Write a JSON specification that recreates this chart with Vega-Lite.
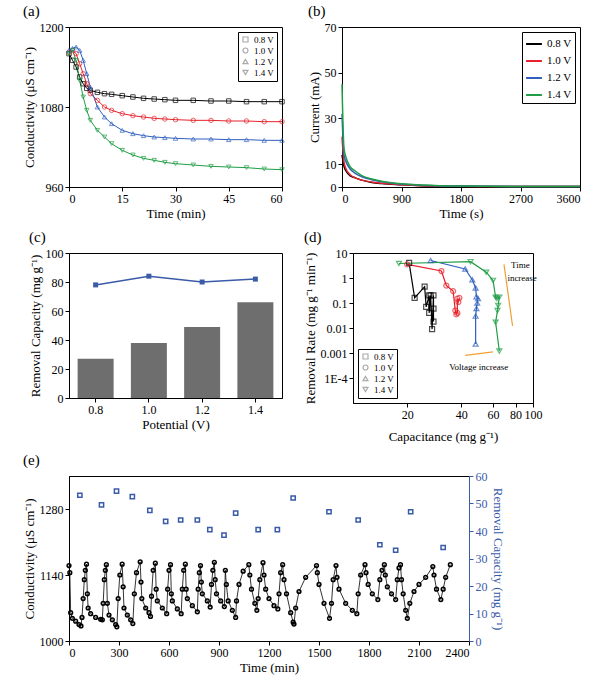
{
  "$schema": "https://vega.github.io/schema/vega-lite/v6.json",
  "background": "white",
  "padding": {"left": 22, "top": 3, "right": 3, "bottom": 2},
  "datasets": {
    "cond": [
      {"t":0,"v":"0.8 V","c":1160},{"t":1,"v":"0.8 V","c":1150},{"t":2,"v":"0.8 V","c":1140},{"t":3,"v":"0.8 V","c":1125},{"t":4,"v":"0.8 V","c":1115},{"t":5,"v":"0.8 V","c":1108},{"t":6,"v":"0.8 V","c":1105},{"t":8,"v":"0.8 V","c":1102},{"t":10,"v":"0.8 V","c":1100},{"t":12,"v":"0.8 V","c":1099},{"t":15,"v":"0.8 V","c":1097},{"t":18,"v":"0.8 V","c":1095},{"t":21,"v":"0.8 V","c":1093},{"t":24,"v":"0.8 V","c":1092},{"t":27,"v":"0.8 V","c":1091},{"t":30,"v":"0.8 V","c":1090},{"t":35,"v":"0.8 V","c":1090},{"t":40,"v":"0.8 V","c":1089},{"t":45,"v":"0.8 V","c":1089},{"t":50,"v":"0.8 V","c":1088},{"t":55,"v":"0.8 V","c":1088},{"t":60,"v":"0.8 V","c":1088},
      {"t":0,"v":"1.0 V","c":1162},{"t":1,"v":"1.0 V","c":1165},{"t":2,"v":"1.0 V","c":1160},{"t":3,"v":"1.0 V","c":1145},{"t":4,"v":"1.0 V","c":1130},{"t":5,"v":"1.0 V","c":1115},{"t":6,"v":"1.0 V","c":1100},{"t":8,"v":"1.0 V","c":1090},{"t":10,"v":"1.0 V","c":1080},{"t":12,"v":"1.0 V","c":1075},{"t":15,"v":"1.0 V","c":1070},{"t":18,"v":"1.0 V","c":1067},{"t":21,"v":"1.0 V","c":1065},{"t":24,"v":"1.0 V","c":1063},{"t":27,"v":"1.0 V","c":1062},{"t":30,"v":"1.0 V","c":1061},{"t":35,"v":"1.0 V","c":1060},{"t":40,"v":"1.0 V","c":1060},{"t":45,"v":"1.0 V","c":1059},{"t":50,"v":"1.0 V","c":1059},{"t":55,"v":"1.0 V","c":1058},{"t":60,"v":"1.0 V","c":1058},
      {"t":0,"v":"1.2 V","c":1165},{"t":1,"v":"1.2 V","c":1168},{"t":2,"v":"1.2 V","c":1170},{"t":3,"v":"1.2 V","c":1165},{"t":4,"v":"1.2 V","c":1150},{"t":5,"v":"1.2 V","c":1130},{"t":6,"v":"1.2 V","c":1110},{"t":8,"v":"1.2 V","c":1080},{"t":10,"v":"1.2 V","c":1065},{"t":12,"v":"1.2 V","c":1055},{"t":15,"v":"1.2 V","c":1045},{"t":18,"v":"1.2 V","c":1040},{"t":21,"v":"1.2 V","c":1037},{"t":24,"v":"1.2 V","c":1035},{"t":27,"v":"1.2 V","c":1034},{"t":30,"v":"1.2 V","c":1033},{"t":35,"v":"1.2 V","c":1032},{"t":40,"v":"1.2 V","c":1032},{"t":45,"v":"1.2 V","c":1031},{"t":50,"v":"1.2 V","c":1031},{"t":55,"v":"1.2 V","c":1030},{"t":60,"v":"1.2 V","c":1030},
      {"t":0,"v":"1.4 V","c":1160},{"t":1,"v":"1.4 V","c":1165},{"t":2,"v":"1.4 V","c":1150},{"t":3,"v":"1.4 V","c":1120},{"t":4,"v":"1.4 V","c":1095},{"t":5,"v":"1.4 V","c":1075},{"t":6,"v":"1.4 V","c":1060},{"t":8,"v":"1.4 V","c":1045},{"t":10,"v":"1.4 V","c":1035},{"t":12,"v":"1.4 V","c":1025},{"t":15,"v":"1.4 V","c":1015},{"t":18,"v":"1.4 V","c":1008},{"t":21,"v":"1.4 V","c":1003},{"t":24,"v":"1.4 V","c":1000},{"t":27,"v":"1.4 V","c":997},{"t":30,"v":"1.4 V","c":995},{"t":35,"v":"1.4 V","c":993},{"t":40,"v":"1.4 V","c":991},{"t":45,"v":"1.4 V","c":990},{"t":50,"v":"1.4 V","c":989},{"t":55,"v":"1.4 V","c":987},{"t":60,"v":"1.4 V","c":986}
    ],
    "current": [
      {"t":0,"v":"0.8 V","i":14},{"t":30,"v":"0.8 V","i":9},{"t":60,"v":"0.8 V","i":7},{"t":120,"v":"0.8 V","i":5},{"t":200,"v":"0.8 V","i":4},{"t":300,"v":"0.8 V","i":3},{"t":450,"v":"0.8 V","i":2},{"t":600,"v":"0.8 V","i":1.5},{"t":900,"v":"0.8 V","i":1},{"t":1200,"v":"0.8 V","i":0.6},{"t":1800,"v":"0.8 V","i":0.3},{"t":2700,"v":"0.8 V","i":0.2},{"t":3600,"v":"0.8 V","i":0.2},
      {"t":0,"v":"1.0 V","i":22},{"t":30,"v":"1.0 V","i":11},{"t":60,"v":"1.0 V","i":8},{"t":120,"v":"1.0 V","i":5.5},{"t":200,"v":"1.0 V","i":4},{"t":300,"v":"1.0 V","i":3},{"t":450,"v":"1.0 V","i":2.2},{"t":600,"v":"1.0 V","i":1.6},{"t":900,"v":"1.0 V","i":1},{"t":1200,"v":"1.0 V","i":0.6},{"t":1800,"v":"1.0 V","i":0.3},{"t":2700,"v":"1.0 V","i":0.2},{"t":3600,"v":"1.0 V","i":0.2},
      {"t":0,"v":"1.2 V","i":32},{"t":30,"v":"1.2 V","i":14},{"t":60,"v":"1.2 V","i":11},{"t":120,"v":"1.2 V","i":8},{"t":200,"v":"1.2 V","i":6},{"t":300,"v":"1.2 V","i":4.5},{"t":450,"v":"1.2 V","i":3.2},{"t":600,"v":"1.2 V","i":2.3},{"t":900,"v":"1.2 V","i":1.3},{"t":1200,"v":"1.2 V","i":0.8},{"t":1800,"v":"1.2 V","i":0.4},{"t":2700,"v":"1.2 V","i":0.2},{"t":3600,"v":"1.2 V","i":0.2},
      {"t":0,"v":"1.4 V","i":45},{"t":30,"v":"1.4 V","i":17},{"t":60,"v":"1.4 V","i":13},{"t":120,"v":"1.4 V","i":9},{"t":200,"v":"1.4 V","i":7},{"t":300,"v":"1.4 V","i":5},{"t":450,"v":"1.4 V","i":3.5},{"t":600,"v":"1.4 V","i":2.5},{"t":900,"v":"1.4 V","i":1.4},{"t":1200,"v":"1.4 V","i":0.9},{"t":1800,"v":"1.4 V","i":0.4},{"t":2700,"v":"1.4 V","i":0.2},{"t":3600,"v":"1.4 V","i":0.2}
    ],
    "cap": [
      {"p":"0.8","rc":27,"ce":78},{"p":"1.0","rc":38,"ce":84},{"p":"1.2","rc":49,"ce":80},{"p":"1.4","rc":66,"ce":82}
    ],
    "rate": [
      {"o":1,"v":"0.8 V","x":20.5,"r":4},{"o":2,"v":"0.8 V","x":22,"r":0.16},{"o":3,"v":"0.8 V","x":25,"r":0.45},{"o":4,"v":"0.8 V","x":25.5,"r":0.07},{"o":5,"v":"0.8 V","x":26.5,"r":0.2},{"o":6,"v":"0.8 V","x":26.5,"r":0.04},{"o":7,"v":"0.8 V","x":27,"r":0.2},{"o":8,"v":"0.8 V","x":27.5,"r":0.009},{"o":9,"v":"0.8 V","x":28,"r":0.2},{"o":10,"v":"0.8 V","x":28,"r":0.06},{"o":11,"v":"0.8 V","x":28,"r":0.018},
      {"o":1,"v":"1.0 V","x":20,"r":3.5},{"o":2,"v":"1.0 V","x":31,"r":1.9},{"o":3,"v":"1.0 V","x":33,"r":0.5},{"o":4,"v":"1.0 V","x":36,"r":0.3},{"o":5,"v":"1.0 V","x":37,"r":0.05},{"o":6,"v":"1.0 V","x":37.5,"r":0.035},{"o":7,"v":"1.0 V","x":38,"r":0.04},{"o":8,"v":"1.0 V","x":38,"r":0.15},{"o":9,"v":"1.0 V","x":38.5,"r":0.11},{"o":10,"v":"1.0 V","x":39,"r":0.16},
      {"o":1,"v":"1.2 V","x":27,"r":5},{"o":2,"v":"1.2 V","x":42,"r":2.3},{"o":3,"v":"1.2 V","x":46,"r":0.85},{"o":4,"v":"1.2 V","x":48,"r":0.4},{"o":5,"v":"1.2 V","x":48.5,"r":0.18},{"o":6,"v":"1.2 V","x":49.5,"r":0.15},{"o":7,"v":"1.2 V","x":49,"r":0.1},{"o":8,"v":"1.2 V","x":48.5,"r":0.06},{"o":9,"v":"1.2 V","x":48,"r":0.03},{"o":10,"v":"1.2 V","x":48,"r":0.0023},
      {"o":1,"v":"1.4 V","x":18,"r":3.8},{"o":2,"v":"1.4 V","x":45,"r":4.5},{"o":3,"v":"1.4 V","x":55,"r":1.7},{"o":4,"v":"1.4 V","x":60,"r":0.8},{"o":5,"v":"1.4 V","x":62,"r":0.17},{"o":6,"v":"1.4 V","x":63,"r":0.15},{"o":7,"v":"1.4 V","x":65,"r":0.17},{"o":8,"v":"1.4 V","x":64,"r":0.08},{"o":9,"v":"1.4 V","x":63.5,"r":0.05},{"o":10,"v":"1.4 V","x":62,"r":0.017},{"o":11,"v":"1.4 V","x":65,"r":0.0012}
    ],
    "cyc": [
      {"t":0,"c":1160},{"t":5,"c":1145},{"t":10,"c":1060},{"t":20,"c":1048},{"t":40,"c":1042},{"t":60,"c":1035},{"t":72,"c":1032},{"t":78,"c":1050},{"t":85,"c":1090},{"t":92,"c":1130},{"t":98,"c":1150},{"t":105,"c":1163},
      {"t":110,"c":1100},{"t":115,"c":1070},{"t":130,"c":1058},{"t":160,"c":1050},{"t":190,"c":1046},{"t":200,"c":1045},{"t":205,"c":1080},{"t":212,"c":1130},{"t":218,"c":1150},{"t":224,"c":1162},
      {"t":230,"c":1080},{"t":240,"c":1055},{"t":260,"c":1045},{"t":280,"c":1035},{"t":287,"c":1030},{"t":295,"c":1090},{"t":305,"c":1140},{"t":319,"c":1163},
      {"t":325,"c":1115},{"t":330,"c":1070},{"t":350,"c":1055},{"t":370,"c":1045},{"t":383,"c":1037},{"t":392,"c":1100},{"t":405,"c":1145},{"t":427,"c":1168},
      {"t":432,"c":1125},{"t":437,"c":1090},{"t":460,"c":1070},{"t":480,"c":1060},{"t":489,"c":1052},{"t":495,"c":1095},{"t":505,"c":1150},{"t":518,"c":1165},
      {"t":523,"c":1110},{"t":530,"c":1085},{"t":560,"c":1070},{"t":586,"c":1058},{"t":592,"c":1110},{"t":600,"c":1150},{"t":609,"c":1162},
      {"t":614,"c":1100},{"t":620,"c":1085},{"t":650,"c":1068},{"t":673,"c":1058},{"t":680,"c":1110},{"t":688,"c":1150},{"t":698,"c":1163},
      {"t":703,"c":1110},{"t":710,"c":1090},{"t":740,"c":1075},{"t":770,"c":1062},{"t":775,"c":1110},{"t":782,"c":1145},{"t":789,"c":1160},
      {"t":794,"c":1125},{"t":800,"c":1100},{"t":830,"c":1085},{"t":847,"c":1072},{"t":855,"c":1120},{"t":863,"c":1150},{"t":872,"c":1167},
      {"t":877,"c":1130},{"t":885,"c":1100},{"t":910,"c":1085},{"t":932,"c":1073},{"t":938,"c":1150},{"t":944,"c":1120},{"t":955,"c":1085},{"t":980,"c":1065},{"t":1000,"c":1050},{"t":1005,"c":1085},{"t":1020,"c":1120},{"t":1045,"c":1148},{"t":1079,"c":1162},
      {"t":1085,"c":1140},{"t":1095,"c":1110},{"t":1115,"c":1080},{"t":1127,"c":1065},{"t":1135,"c":1090},{"t":1145,"c":1130},{"t":1164,"c":1166},
      {"t":1170,"c":1140},{"t":1180,"c":1110},{"t":1200,"c":1090},{"t":1230,"c":1075},{"t":1253,"c":1068},{"t":1260,"c":1100},{"t":1270,"c":1145},{"t":1282,"c":1162},
      {"t":1290,"c":1130},{"t":1305,"c":1100},{"t":1330,"c":1060},{"t":1345,"c":1040},{"t":1350,"c":1036},{"t":1360,"c":1070},{"t":1380,"c":1105},{"t":1420,"c":1135},{"t":1485,"c":1160},
      {"t":1490,"c":1145},{"t":1500,"c":1120},{"t":1530,"c":1080},{"t":1563,"c":1048},{"t":1575,"c":1080},{"t":1585,"c":1130},{"t":1602,"c":1160},
      {"t":1608,"c":1135},{"t":1620,"c":1110},{"t":1660,"c":1080},{"t":1700,"c":1065},{"t":1727,"c":1058},{"t":1735,"c":1100},{"t":1750,"c":1140},{"t":1776,"c":1162},
      {"t":1782,"c":1145},{"t":1795,"c":1120},{"t":1820,"c":1100},{"t":1853,"c":1088},{"t":1865,"c":1130},{"t":1878,"c":1150},{"t":1892,"c":1162},
      {"t":1898,"c":1140},{"t":1910,"c":1115},{"t":1935,"c":1100},{"t":1960,"c":1088},{"t":1970,"c":1130},{"t":1980,"c":1155},{"t":1989,"c":1162},
      {"t":1995,"c":1130},{"t":2005,"c":1100},{"t":2020,"c":1065},{"t":2030,"c":1048},{"t":2045,"c":1080},{"t":2070,"c":1105},{"t":2100,"c":1120},{"t":2140,"c":1135},{"t":2183,"c":1158},
      {"t":2190,"c":1140},{"t":2205,"c":1110},{"t":2231,"c":1088},{"t":2245,"c":1110},{"t":2260,"c":1135},{"t":2288,"c":1162}
    ],
    "rcap": [
      {"t":65,"rc":53},{"t":195,"rc":49.5},{"t":285,"rc":54.5},{"t":380,"rc":52.5},{"t":485,"rc":47.5},{"t":580,"rc":43.5},{"t":670,"rc":44},{"t":770,"rc":44},{"t":845,"rc":40.5},{"t":930,"rc":38.5},{"t":1000,"rc":46.5},{"t":1135,"rc":40.5},{"t":1250,"rc":40.5},{"t":1345,"rc":52},{"t":1560,"rc":47},{"t":1735,"rc":44},{"t":1865,"rc":35},{"t":1960,"rc":33},{"t":2050,"rc":47},{"t":2245,"rc":34}
    ]
  },
  "vconcat": [
    {
      "hconcat": [
        {
          "title": {"text": "(a)", "anchor": "start", "frame": "bounds", "fontSize": 15, "fontWeight": "normal"},
          "width": 213, "height": 160,
          "data": {"name": "cond"},
          "layer": [
            {"mark": {"type": "line", "strokeWidth": 1}, "encoding": {
              "x": {"field": "t", "type": "quantitative", "scale": {"domain": [0, 60]}, "axis": {"values": [0, 15, 30, 45, 60], "title": "Time (min)"}},
              "y": {"field": "c", "type": "quantitative", "scale": {"domain": [960, 1200]}, "axis": {"values": [960, 1020, 1080, 1140, 1200], "format": "d", "title": "Conductivity (μS cm⁻¹)"}},
              "color": {"field": "v", "type": "nominal", "legend": null}}},
            {"mark": {"type": "point", "filled": false, "size": 20, "strokeWidth": 1}, "encoding": {
              "x": {"field": "t", "type": "quantitative"},
              "y": {"field": "c", "type": "quantitative"},
              "color": {"field": "v", "type": "nominal", "legend": null},
              "shape": {"field": "v", "type": "nominal", "scale": {"range": ["square", "circle", "triangle-up", "triangle-down"]}, "legend": {"title": null, "orient": "top-right", "encode": {"symbols": {"update": {"stroke": {"scale": "color", "field": "value"}}}}}}}}
          ]
        },
        {
          "title": {"text": "(b)", "anchor": "start", "frame": "bounds", "fontSize": 15, "fontWeight": "normal"},
          "width": 238, "height": 160,
          "data": {"name": "current"},
          "mark": {"type": "line", "strokeWidth": 1.5, "interpolate": "monotone"},
          "encoding": {
            "x": {"field": "t", "type": "quantitative", "scale": {"domain": [0, 3600]}, "axis": {"values": [0, 900, 1800, 2700, 3600], "format": "d", "title": "Time (s)"}},
            "y": {"field": "i", "type": "quantitative", "scale": {"domain": [0, 70]}, "axis": {"values": [0, 10, 30, 50, 70], "title": "Current (mA)"}},
            "color": {"field": "v", "type": "nominal", "legend": {"orient": "top-right", "title": null, "labelFontSize": 11, "symbolType": "stroke", "symbolStrokeWidth": 2, "symbolSize": 250, "rowPadding": 3, "strokeColor": null}}
          }
        }
      ],
      "resolve": {"scale": {"color": "independent", "shape": "independent"}, "legend": {"color": "independent", "shape": "independent"}}
    },
    {
      "hconcat": [
        {
          "title": {"text": "(c)", "anchor": "start", "frame": "bounds", "fontSize": 15, "fontWeight": "normal"},
          "width": 213, "height": 145,
          "data": {"name": "cap"},
          "layer": [
            {"mark": {"type": "bar", "color": "#6e6e6e", "width": 36}, "encoding": {
              "x": {"field": "p", "type": "ordinal", "axis": {"labelAngle": 0, "title": "Potential (V)"}},
              "y": {"field": "rc", "type": "quantitative", "scale": {"domain": [0, 100]}, "axis": {"values": [0, 20, 40, 60, 80, 100], "title": "Removal Capacity (mg g⁻¹)"}}}},
            {"layer": [
              {"mark": {"type": "line", "color": "#3a5ba8", "strokeWidth": 1.5}, "encoding": {
                "x": {"field": "p", "type": "ordinal"},
                "y": {"field": "ce", "type": "quantitative", "scale": {"domain": [0, 100]}, "axis": {"orient": "right", "values": [0, 20, 40, 60, 80, 100], "title": "Charge Efficiency (100%)", "titleColor": "#3a5ba8", "labelColor": "#3a5ba8", "domainColor": "#3a5ba8", "tickColor": "#3a5ba8"}}}},
              {"mark": {"type": "square", "color": "#3a5ba8", "size": 25, "opacity": 1}, "encoding": {
                "x": {"field": "p", "type": "ordinal"},
                "y": {"field": "ce", "type": "quantitative", "axis": null}}}
            ]}
          ],
          "resolve": {"scale": {"y": "independent"}}
        },
        {
          "title": {"text": "(d)", "anchor": "start", "frame": "bounds", "fontSize": 15, "fontWeight": "normal"},
          "width": 180, "height": 150,
          "layer": [
            {"data": {"name": "rate"}, "mark": {"type": "line", "strokeWidth": 1.2}, "encoding": {
              "x": {"field": "x", "type": "quantitative", "scale": {"type": "log", "domain": [15, 100]}, "axis": {"values": [20, 40, 60, 80, 100], "labelOverlap": false, "labelFlush": false, "title": "Capacitance (mg g⁻¹)", "titlePadding": 10}},
              "y": {"field": "r", "type": "quantitative", "scale": {"type": "log", "domain": [0.00005, 10]}, "axis": {"values": [0.0001, 0.001, 0.01, 0.1, 1, 10], "labelExpr": "datum.value < 0.0005 ? '1E-4' : datum.value < 0.005 ? '0.001' : datum.value < 0.05 ? '0.01' : datum.value < 0.5 ? '0.1' : datum.value < 5 ? '1' : '10'", "title": "Removal Rate (mg g⁻¹ min⁻¹)"}},
              "order": {"field": "o"},
              "color": {"field": "v", "type": "nominal", "legend": null}}},
            {"data": {"name": "rate"}, "mark": {"type": "point", "filled": false, "size": 25, "strokeWidth": 1.2}, "encoding": {
              "x": {"field": "x", "type": "quantitative"},
              "y": {"field": "r", "type": "quantitative"},
              "color": {"field": "v", "type": "nominal", "legend": null},
              "shape": {"field": "v", "type": "nominal", "scale": {"range": ["square", "circle", "triangle-up", "triangle-down"]}, "legend": {"title": null, "orient": "bottom-left", "strokeColor": null, "encode": {"symbols": {"update": {"stroke": {"scale": "color", "field": "value"}}}}}}}},
            {"data": {"values": [{"x": 69, "y": 3.5, "x2": 77, "y2": 0.012}, {"x": 42, "y": 0.0008, "x2": 60, "y2": 0.0011}]},
              "mark": {"type": "rule", "color": "#f0a030", "strokeWidth": 1.2},
              "encoding": {"x": {"field": "x", "type": "quantitative"}, "y": {"field": "y", "type": "quantitative"}, "x2": {"field": "x2"}, "y2": {"field": "y2"}}},
            {"data": {"values": [{"x": 85, "y": 3.2, "s": "Time"}, {"x": 87, "y": 1.0, "s": "increase"}, {"x": 50, "y": 0.00028, "s": "Voltage increase"}]},
              "mark": {"type": "text", "fontSize": 9},
              "encoding": {"x": {"field": "x", "type": "quantitative"}, "y": {"field": "y", "type": "quantitative"}, "text": {"field": "s"}}}
          ]
        }
      ],
      "resolve": {"scale": {"color": "independent", "shape": "independent"}, "legend": {"color": "independent", "shape": "independent"}}
    },
    {
      "title": {"text": "(e)", "anchor": "start", "frame": "bounds", "fontSize": 15, "fontWeight": "normal"},
      "width": 400, "height": 165,
      "layer": [
        {"data": {"name": "cyc"}, "layer": [
          {"mark": {"type": "line", "color": "black", "strokeWidth": 0.8}, "encoding": {
            "x": {"field": "t", "type": "quantitative", "scale": {"domain": [0, 2400]}, "axis": {"values": [0, 300, 600, 900, 1200, 1500, 1800, 2100, 2400], "format": "d", "title": "Time (min)"}},
            "y": {"field": "c", "type": "quantitative", "scale": {"domain": [1000, 1350]}, "axis": {"values": [1000, 1070, 1140, 1210, 1280, 1350], "format": "d", "title": "Conductivity (μS cm⁻¹)"}}}},
          {"mark": {"type": "point", "filled": false, "color": "black", "size": 14, "strokeWidth": 1.5, "opacity": 1}, "encoding": {
            "x": {"field": "t", "type": "quantitative"},
            "y": {"field": "c", "type": "quantitative"}}}
        ]},
        {"data": {"name": "rcap"}, "mark": {"type": "point", "shape": "square", "filled": false, "color": "#3a5ba8", "size": 18, "strokeWidth": 1.5, "opacity": 1}, "encoding": {
          "x": {"field": "t", "type": "quantitative"},
          "y": {"field": "rc", "type": "quantitative", "scale": {"domain": [0, 60]}, "axis": {"orient": "right", "values": [0, 10, 20, 30, 40, 50, 60], "title": "Removal Capacity (mg g⁻¹)", "titleColor": "#3a5ba8", "labelColor": "#3a5ba8", "domainColor": "#3a5ba8", "tickColor": "#3a5ba8"}}}}
      ],
      "resolve": {"scale": {"y": "independent"}}
    }
  ],
  "spacing": 8,
  "config": {
    "font": "Liberation Serif",
    "view": {"stroke": "black", "strokeWidth": 1},
    "concat": {"spacing": 20},
    "axis": {"grid": false, "domainColor": "black", "tickColor": "black", "labelColor": "black", "titleColor": "black", "labelFontSize": 12, "titleFontSize": 13, "titleFontWeight": "normal", "tickSize": 4, "labelPadding": 2, "titlePadding": 3, "labelFont": "Liberation Serif", "titleFont": "Liberation Serif"},
    "legend": {"labelFont": "Liberation Serif", "labelFontSize": 9, "symbolSize": 25, "rowPadding": 0, "strokeColor": "black", "padding": 3, "offset": 5, "symbolStrokeWidth": 1.2},
    "range": {"category": ["black", "#e8212a", "#2f5fbf", "#1f9e45"]},
    "title": {"font": "Liberation Serif", "offset": 2}
  }
}
